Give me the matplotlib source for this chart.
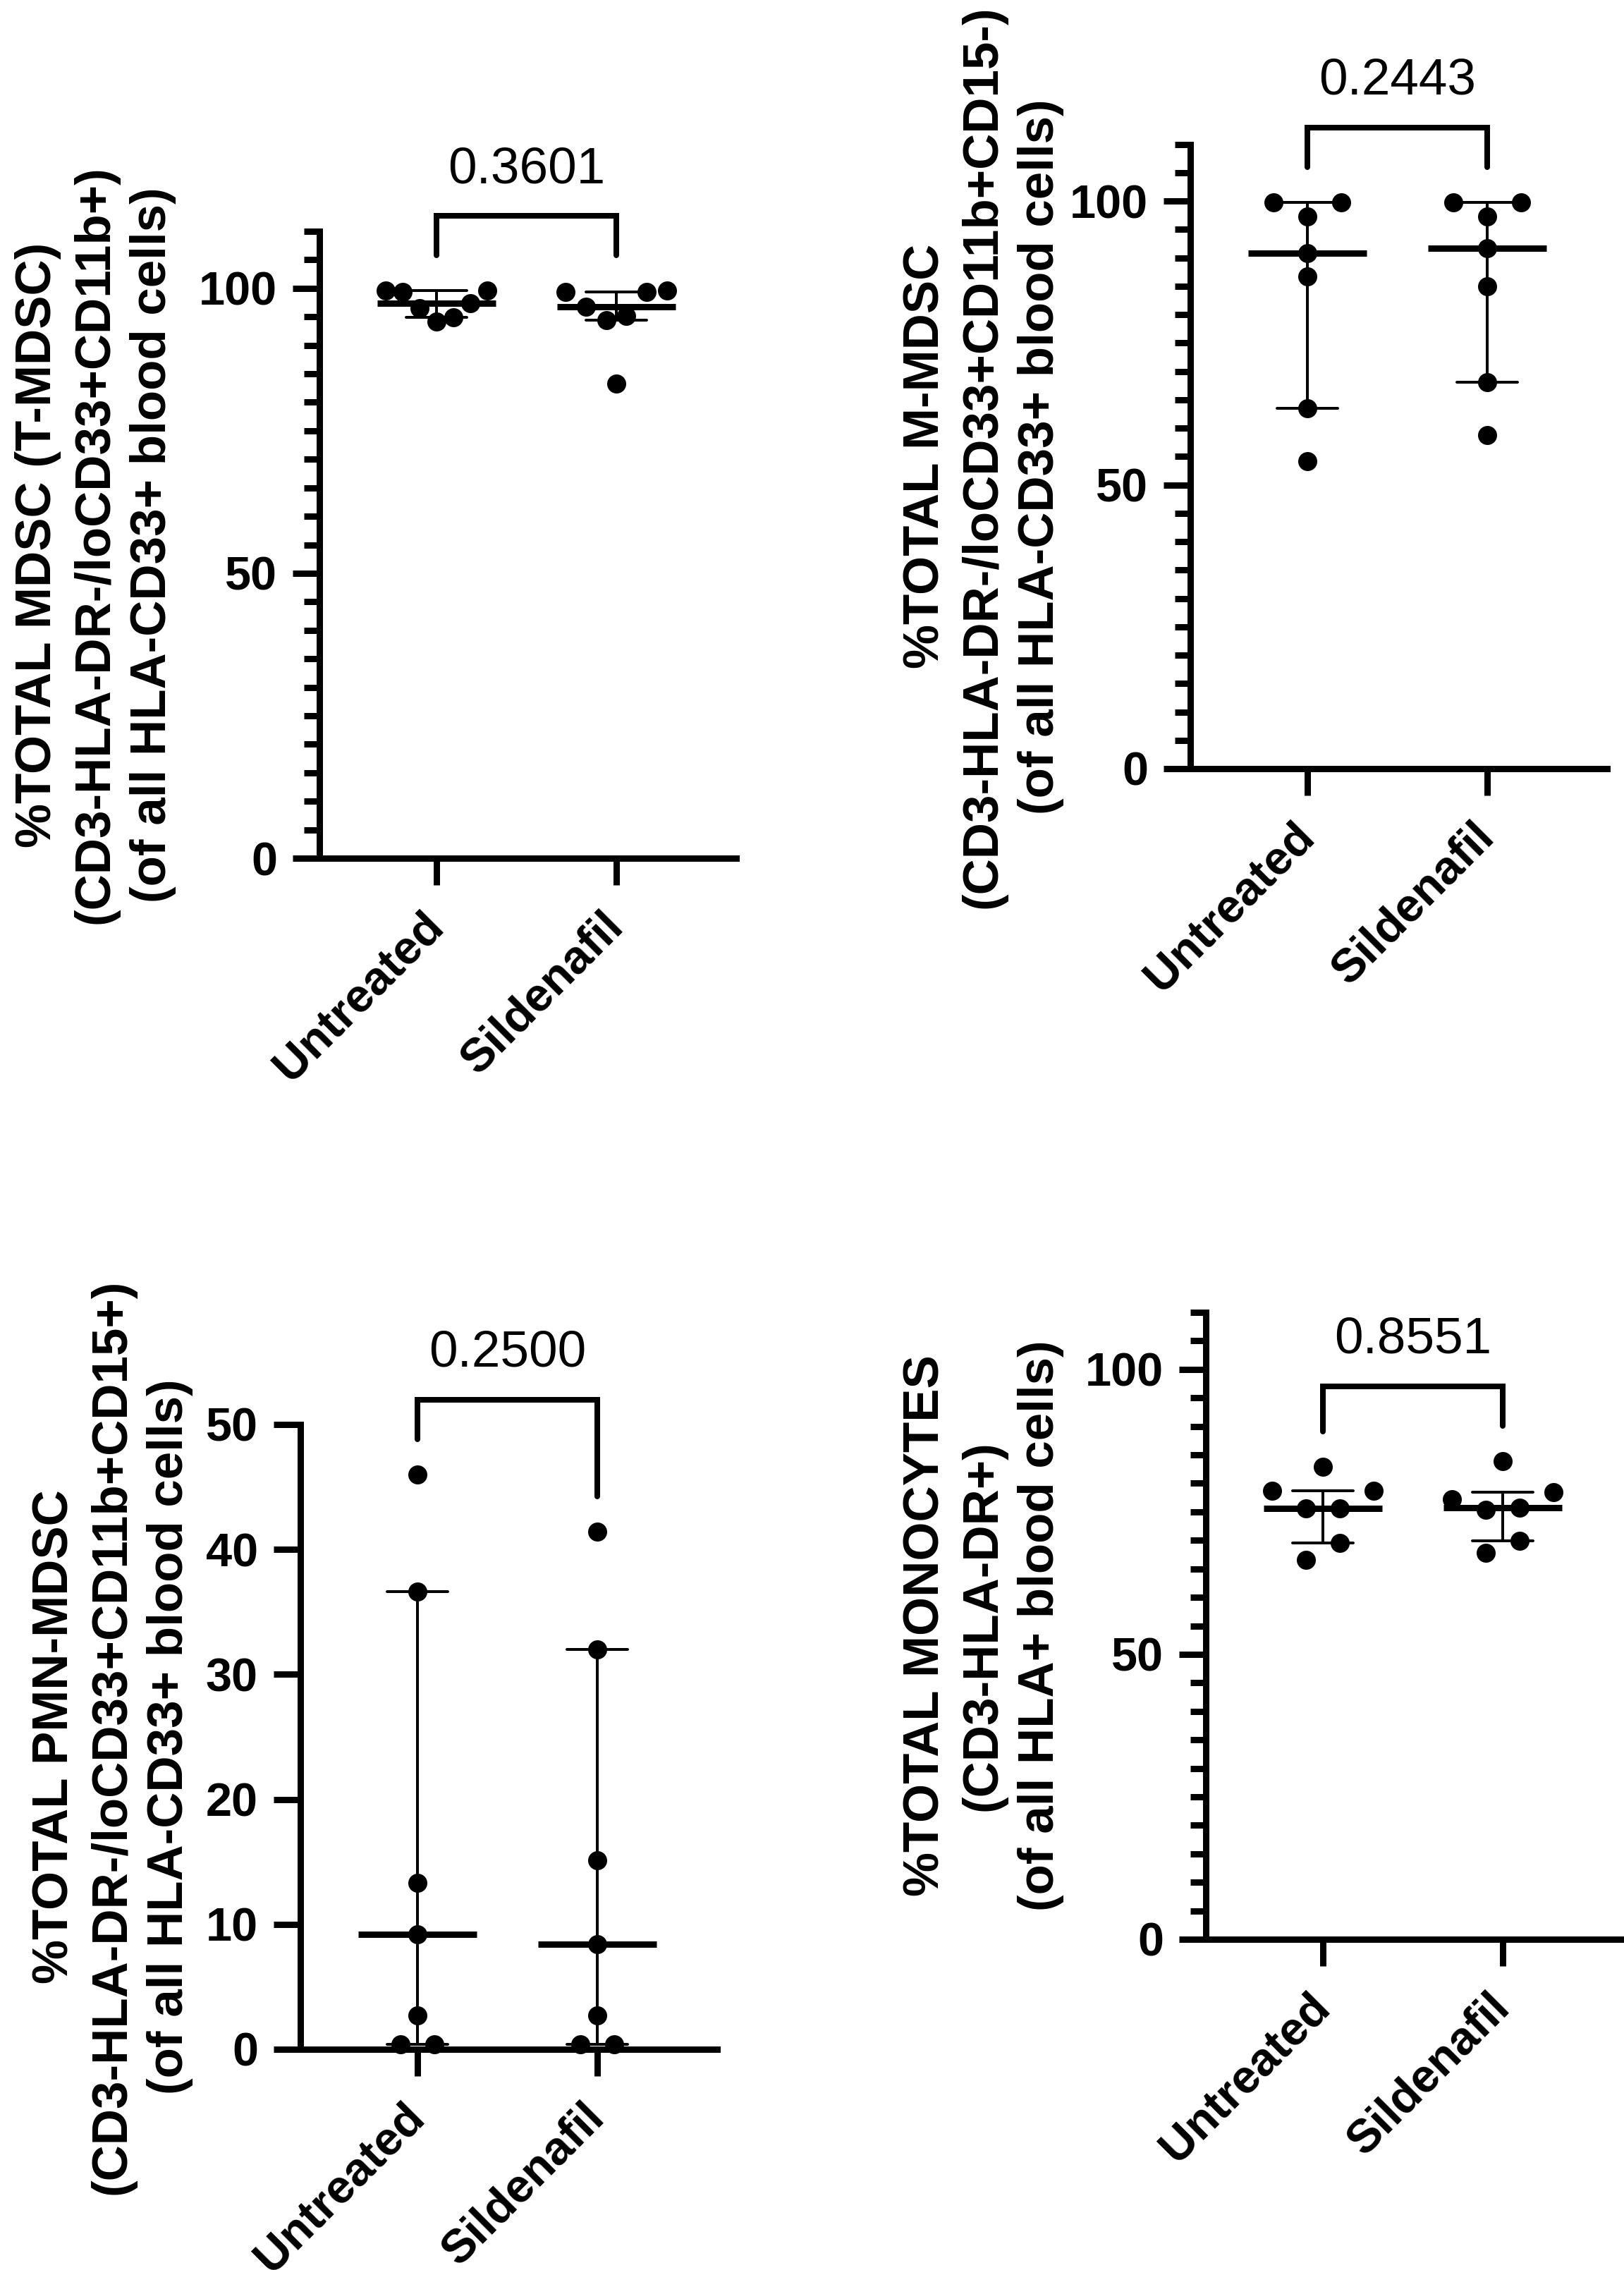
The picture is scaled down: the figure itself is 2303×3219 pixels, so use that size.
import numpy as np
import matplotlib
matplotlib.use('Agg')
import matplotlib.pyplot as plt
from matplotlib.ticker import MultipleLocator

plt.rcParams['font.family'] = ['Liberation Sans', 'DejaVu Sans']
plt.rcParams['font.weight'] = 'bold'
plt.rcParams['axes.labelweight'] = 'bold'

# ---- data ----
groups = ['Untreated', 'Sildenafil']

t_mdsc_untreated = [99.6, 94.9, 99.3, 96.5, 97.4, 99.6, 94.2]
t_mdsc_sildenafil = [99.6, 99.3, 99.3, 95.2, 94.4, 96.8, 83.3]
t_mdsc_p = '0.3601'

m_mdsc_untreated = [97.3, 99.8, 99.8, 90.8, 86.7, 63.5, 54.2]
m_mdsc_sildenafil = [99.8, 99.8, 97.3, 91.7, 85.0, 68.1, 58.7]
m_mdsc_p = '0.2443'

pmn_mdsc_untreated = [46.0, 36.6, 13.3, 9.2, 2.7, 0.4, 0.4]
pmn_mdsc_sildenafil = [41.4, 32.0, 15.1, 8.4, 2.7, 0.4, 0.4]
pmn_mdsc_p = '0.2500'

mono_untreated = [82.9, 78.7, 78.7, 75.6, 75.6, 69.5, 66.6]
mono_sildenafil = [83.9, 78.5, 75.7, 75.4, 77.2, 69.9, 67.8]
mono_p = '0.8551'

t_mdsc_label = '%TOTAL MDSC (T-MDSC)\n(CD3-HLA-DR-/loCD33+CD11b+)\n(of all HLA-CD33+ blood cells)'
m_mdsc_label = '%TOTAL M-MDSC\n(CD3-HLA-DR-/loCD33+CD11b+CD15-)\n(of all HLA-CD33+ blood cells)'
pmn_mdsc_label = '%TOTAL PMN-MDSC\n(CD3-HLA-DR-/loCD33+CD11b+CD15+)\n(of all HLA-CD33+ blood cells)'
mono_label = '%TOTAL MONOCYTES\n(CD3-HLA-DR+)\n(of all HLA+ blood cells)'

# ---- layout (pixels) ----
W, H, DPI = 2303, 3219, 300
PT = 72 / DPI  # one pixel in points
XLIM = (-0.651, 1.667)


def px_rect(left, top, right, bottom):
    return [left / W, 1 - bottom / H, (right - left) / W, (bottom - top) / H]


def swarm(values, px_y, px_x, sep=46, step=24, half_max=72, touch=27):
    """Prism-like column scatter: spread touching points sideways."""
    v = np.asarray(values) * px_y
    order = np.argsort(v, kind='stable')
    off = np.zeros(len(v))
    clusters, cur = [], [order[0]]
    for a, b in zip(order[:-1], order[1:]):
        if v[b] - v[a] < touch:
            cur.append(b)
        else:
            clusters.append(cur)
            cur = [b]
    clusters.append(cur)
    cands = [0] + [s * k * step for k in range(1, 30) for s in (1, -1)]
    for cl in clusters:
        placed = []
        for i in cl:
            for c in cands:
                if all(np.hypot(c - off[j], v[i] - v[j]) >= sep for j in placed):
                    off[i] = c
                    break
            placed.append(i)
        off[cl] -= (off[cl].max() + off[cl].min()) / 2
        span = np.abs(off[cl]).max()
        if span > half_max:
            off[cl] *= half_max / span
    return off / px_x


def draw_panel(fig, rect_px, values, p_text, ylabel, ymax, major, minor, label_right_px):
    left, top, right, bottom = rect_px
    ax = fig.add_axes(px_rect(*rect_px))
    ax.set_xlim(*XLIM)
    ax.set_ylim(0, ymax)
    px_x = (right - left) / (XLIM[1] - XLIM[0])
    px_y = (bottom - top) / ymax

    for i, vals in enumerate(values):
        v = np.array(vals)
        med = np.median(v)
        q1, q3 = np.percentile(v, [25, 75], method='weibull')
        ax.plot([i, i], [q1, q3], color='k', lw=4 * PT, zorder=2)
        for q in (q1, q3):
            ax.plot([i - 0.17, i + 0.17], [q, q], color='k', lw=4 * PT,
                    solid_capstyle='round', zorder=2)
        ax.plot([i - 0.33, i + 0.33], [med, med], color='k', lw=9 * PT,
                solid_capstyle='butt', zorder=2)
        ax.plot(i + swarm(v, px_y, px_x), v, 'o', color='k', ms=27 * PT,
                mew=0, zorder=3, clip_on=False)

    # significance bracket
    legs = [max(v) + 50 / px_y for v in values]
    yb = max(legs) + 56 / px_y
    ax.plot([0, 0, 1, 1], [legs[0], yb, yb, legs[1]], color='k', lw=8 * PT,
            solid_capstyle='round', solid_joinstyle='miter', clip_on=False)
    ax.annotate(p_text, (0.5, yb), xytext=(0, 47 * PT), textcoords='offset points',
                ha='center', va='baseline', fontsize=17.5, fontweight='normal',
                annotation_clip=False)

    for s in ('top', 'right'):
        ax.spines[s].set_visible(False)
    for s in ('left', 'bottom'):
        ax.spines[s].set_linewidth(9 * PT)
    ax.yaxis.set_major_locator(MultipleLocator(major))
    if minor:
        ax.yaxis.set_minor_locator(MultipleLocator(minor))
    ax.tick_params(which='major', length=38 * PT, width=9 * PT)
    ax.tick_params(which='minor', length=22 * PT, width=9 * PT)
    ax.tick_params(axis='y', pad=5.3, labelsize=16)
    ax.set_xticks([0, 1])
    ax.set_xticklabels(groups, rotation=45, ha='right', va='center',
                       rotation_mode='anchor', fontsize=16, fontweight='bold')
    ax.tick_params(axis='x', pad=11.8)
    ax.tick_params(axis='x', which='minor', bottom=False)

    ax.set_ylabel(ylabel, fontsize=17, fontweight='bold', linespacing=1.3)
    ax.yaxis.set_label_coords((label_right_px - left) / (right - left), 0.5)
    return ax


fig = plt.figure(figsize=(W / DPI, H / DPI), dpi=DPI)

draw_panel(fig, (453, 328, 1044, 1217), [t_mdsc_untreated, t_mdsc_sildenafil],
           t_mdsc_p, t_mdsc_label, 110, 50, 5, 250)
draw_panel(fig, (1688, 204.5, 2279, 1090), [m_mdsc_untreated, m_mdsc_sildenafil],
           m_mdsc_p, m_mdsc_label, 110, 50, 5, 1509)
draw_panel(fig, (426, 2020, 1017, 2906), [pmn_mdsc_untreated, pmn_mdsc_sildenafil],
           pmn_mdsc_p, pmn_mdsc_label, 50, 10, None, 274)
draw_panel(fig, (1710, 1861, 2301, 2750), [mono_untreated, mono_sildenafil],
           mono_p, mono_label, 110, 50, 5, 1509)

fig.savefig('out.png', dpi=DPI, facecolor='white')
